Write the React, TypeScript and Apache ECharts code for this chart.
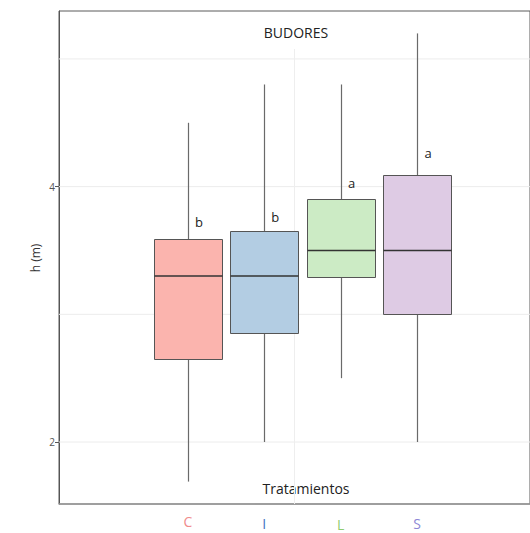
import React, { useEffect, useRef } from 'react';
import * as echarts from 'echarts';

const categories = ['C', 'I', 'L', 'S'];
const whiskerLow = [1.69, 2.0, 2.5, 2.0];
const q1 = [2.65, 2.85, 3.29, 3.0];
const median = [3.3, 3.3, 3.5, 3.5];
const q3 = [3.59, 3.65, 3.9, 4.09];
const whiskerHigh = [4.5, 4.8, 4.8, 5.2];
const groupLetters = ['b', 'b', 'a', 'a'];
const letterY = [3.725, 3.765, 4.03, 4.26];
const yTickLabels = [2, 4];
const yGridValues = [2, 3, 4, 5];
const fillColors = ['#FBB4AE', '#B3CDE3', '#CCEBC5', '#DECBE4'];
const labelColors = ['#F08C8C', '#3F6FC2', '#8FCC6E', '#8C86D6'];
const labelDrop = [0, 3, 5, 4];

const lo = Math.min(...whiskerLow);
const hi = Math.max(...whiskerHigh);
const pad = (hi - lo) * 0.05;
const yMin = lo - pad;
const yMax = hi + pad;

const FONT = '"Open Sans", "Noto Sans", sans-serif';

export default function App() {
  const ref = useRef<HTMLDivElement>(null);
  useEffect(() => {
    document.body.style.margin = '0';
    if (!ref.current) return;
    const chart = echarts.init(ref.current, null, { renderer: 'svg' });
    const rich: any = {};
    categories.forEach((c, i) => {
      rich['c' + i] = {
        color: labelColors[i],
        fontSize: 14,
        lineHeight: 13,
        fontFamily: FONT,
        padding: [labelDrop[i], 0, 0, 0],
      };
    });
    chart.setOption({
      animation: false,
      backgroundColor: '#ffffff',
      grid: [
        {
          left: 59, top: 11, right: -16, bottom: 29,
          show: true, borderColor: '#5a5a5a', borderWidth: 1, backgroundColor: 'transparent',
        },
        { left: 149.75, right: 74.75, top: 11, bottom: 29 },
      ],
      xAxis: [
        {
          gridIndex: 0, type: 'value', min: 0, max: 1,
          axisLine: { show: true, lineStyle: { color: '#9a9a9a', width: 1.5 } },
          axisTick: { show: false }, axisLabel: { show: false }, splitLine: { show: false },
        },
        {
          gridIndex: 1, type: 'category', data: categories,
          axisLine: { show: false }, axisTick: { show: false }, splitLine: { show: false },
          axisLabel: {
            margin: 11,
            verticalAlign: 'top',
            formatter: (v: string) => `{c${categories.indexOf(v)}|${v}}`,
            rich,
          },
        },
      ],
      yAxis: [
        {
          gridIndex: 0, type: 'value', min: yMin, max: yMax,
          axisLine: { show: true, lineStyle: { color: '#555555', width: 1 } },
          axisTick: { show: true, length: 4, customValues: yTickLabels, lineStyle: { color: '#555555' } },
          axisLabel: { customValues: yTickLabels, color: '#555555', fontSize: 10, margin: 4, fontFamily: FONT },
          splitLine: { show: false },
        },
        {
          gridIndex: 1, type: 'value', min: yMin, max: yMax, show: false,
          splitLine: { show: false },
        },
      ],
      graphic: [
        { type: 'text', x: 296, y: 32, style: { text: 'BUDORES', fontSize: 14, fontFamily: FONT, fill: '#222222', align: 'center', verticalAlign: 'middle' } },
        { type: 'text', x: 306, y: 488, style: { text: 'Tratamientos', fontSize: 14, fontFamily: FONT, fill: '#222222', align: 'center', verticalAlign: 'middle' } },
        { type: 'text', x: 35, y: 258, rotation: Math.PI / 2, style: { text: 'h (m)', fontSize: 12, fontFamily: FONT, fill: '#333333', align: 'center', verticalAlign: 'middle' } },
      ],
      series: [
        {
          type: 'custom', xAxisIndex: 0, yAxisIndex: 0, silent: true, z: 1,
          data: yGridValues.map((v) => [0, v]),
          renderItem: (params: any, api: any) => {
            const cs = params.coordSys;
            const y = api.coord([0, api.value(1)])[1];
            return { type: 'line', shape: { x1: cs.x, y1: y, x2: cs.x + cs.width, y2: y }, style: { stroke: '#ececec', lineWidth: 1 } };
          },
        },
        {
          type: 'custom', xAxisIndex: 0, yAxisIndex: 0, silent: true, z: 1,
          data: [[0.5, yMax]],
          renderItem: (params: any, api: any) => {
            const cs = params.coordSys;
            const x = api.coord([api.value(0), yMax])[0];
            return { type: 'line', shape: { x1: x, y1: cs.y + 38, x2: x, y2: cs.y + cs.height }, style: { stroke: '#eeeeee', lineWidth: 1 } };
          },
        },
        {
          type: 'custom', xAxisIndex: 1, yAxisIndex: 1, silent: true, z: 3,
          data: categories.map((c, i) => [i, whiskerLow[i], q1[i], median[i], q3[i], whiskerHigh[i]]),
          encode: { x: 0, y: [1, 2, 3, 4, 5] },
          renderItem: (params: any, api: any) => {
            const i = api.value(0);
            const cx = api.coord([i, api.value(3)])[0];
            const w = api.size([1, 0])[0] * 0.89;
            const yLo = api.coord([i, api.value(1)])[1];
            const yQ1 = api.coord([i, api.value(2)])[1];
            const yMed = api.coord([i, api.value(3)])[1];
            const yQ3 = api.coord([i, api.value(4)])[1];
            const yHi = api.coord([i, api.value(5)])[1];
            const x0 = Math.round(cx - w / 2) + 0.5;
            const x1 = Math.round(cx + w / 2) + 0.5;
            const xc = Math.round(cx) + 0.5;
            return {
              type: 'group',
              children: [
                { type: 'line', shape: { x1: xc, y1: yLo, x2: xc, y2: yQ1 }, style: { stroke: '#6a6a6a', lineWidth: 1.2 } },
                { type: 'line', shape: { x1: xc, y1: yQ3, x2: xc, y2: yHi }, style: { stroke: '#6a6a6a', lineWidth: 1.2 } },
                { type: 'rect', shape: { x: x0, y: Math.round(yQ3) + 0.5, width: x1 - x0, height: Math.round(yQ1) - Math.round(yQ3) }, style: { fill: fillColors[i], stroke: '#555555', lineWidth: 1 } },
                { type: 'line', shape: { x1: x0, y1: yMed, x2: x1, y2: yMed }, style: { stroke: '#333333', lineWidth: 1.6 } },
              ],
            };
          },
        },
        {
          type: 'custom', xAxisIndex: 1, yAxisIndex: 1, silent: true, z: 4,
          data: categories.map((c, i) => [i, letterY[i]]),
          renderItem: (params: any, api: any) => {
            const i = api.value(0);
            const p = api.coord([i, api.value(1)]);
            return { type: 'text', x: p[0] + 11, y: p[1], style: { text: groupLetters[i], fontSize: 13, fontFamily: FONT, fill: '#222222', align: 'center', verticalAlign: 'middle' } };
          },
        },
      ],
    });
    return () => chart.dispose();
  }, []);
  return <div ref={ref} style={{ width: 530, height: 533 }} />;
}
